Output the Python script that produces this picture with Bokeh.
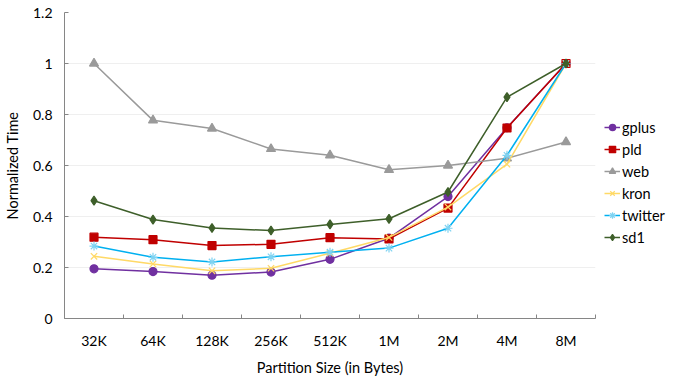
from bokeh.plotting import figure
from bokeh.models import (ColumnDataSource, Range1d, FixedTicker, CustomJSTickFormatter,
                          Legend, LegendItem)
from bokeh.embed import file_html
from bokeh.resources import INLINE

categories = ["32K", "64K", "128K", "256K", "512K", "1M", "2M", "4M", "8M"]
gplus = [0.195, 0.184, 0.170, 0.182, 0.232, 0.315, 0.478, 0.748, 1.0]
pld = [0.319, 0.309, 0.286, 0.291, 0.317, 0.312, 0.433, 0.747, 1.0]
web = [1.0, 0.777, 0.745, 0.665, 0.640, 0.583, 0.600, 0.628, 0.692]
kron = [0.244, 0.214, 0.187, 0.197, 0.256, 0.318, 0.437, 0.605, 1.0]
twitter = [0.284, 0.240, 0.222, 0.242, 0.260, 0.276, 0.354, 0.640, 1.0]
sd1 = [0.462, 0.388, 0.355, 0.345, 0.369, 0.391, 0.496, 0.868, 1.0]
y_ticks = [0, 0.2, 0.4, 0.6, 0.8, 1.0, 1.2]

FONT = "Lato"
xs = list(range(len(categories)))

p = figure(frame_width=531, frame_height=306, output_backend="svg", toolbar_location=None,
           x_range=Range1d(-0.5, len(categories) - 0.5), y_range=Range1d(0, 1.2),
           min_border_left=62, min_border_right=0, min_border_top=12, min_border_bottom=4)
p.outline_line_color = None
p.background_fill_color = "white"
p.border_fill_color = "white"

# axes
p.xaxis.ticker = FixedTicker(ticks=xs, minor_ticks=[i - 0.5 for i in range(len(categories) + 1)])
p.xaxis.major_label_overrides = {i: c for i, c in enumerate(categories)}
p.xaxis.major_tick_in = 0
p.xaxis.major_tick_out = 0
p.xaxis.minor_tick_in = 4
p.xaxis.minor_tick_out = 0
p.xaxis.minor_tick_line_color = "#868686"
p.xaxis.axis_line_color = "#868686"
p.xaxis.major_label_standoff = 13
p.xaxis.axis_label = "Partition Size (in Bytes)"
p.xaxis.axis_label_standoff = 7

p.yaxis.ticker = FixedTicker(ticks=y_ticks, minor_ticks=[])
p.yaxis.formatter = CustomJSTickFormatter(code="return tick.toFixed(1).replace(/\\.0$/, '');")
p.yaxis.major_tick_in = 4
p.yaxis.major_tick_out = 0
p.yaxis.major_tick_line_color = "#868686"
p.yaxis.axis_line_color = "#868686"
p.yaxis.major_label_standoff = 12
p.yaxis.axis_label = "Normalized Time"
p.yaxis.axis_label_standoff = 9

for ax in (p.xaxis, p.yaxis):
    ax.major_label_text_font = FONT
    ax.major_label_text_font_size = "14px"
    ax.major_label_text_color = "#000000"
    ax.axis_label_text_font = FONT
    ax.axis_label_text_font_size = "14.5px"
    ax.axis_label_text_font_style = "normal"
    ax.axis_label_text_color = "#000000"

p.xgrid.grid_line_color = None
p.ygrid.grid_line_color = "#EFEFEF"
p.ygrid.grid_line_width = 1

src = ColumnDataSource(dict(x=xs, gplus=gplus, pld=pld, web=web, kron=kron,
                            twitter=twitter, sd1=sd1))

series = [
    ("gplus", "gplus", "#7030A0", "circle", 8, "#7030A0"),
    ("pld", "pld", "#C00000", "square", 8, "#C00000"),
    ("web", "web", "#9A9A9A", "triangle", 9, "#9A9A9A"),
    ("kron", "kron", "#FFD966", "x", 9, "#FFD966"),
    ("twitter", "twitter", "#00B0F0", "asterisk", 9, "#7FD3F2"),
    ("sd1", "sd1", "#3E5F2A", "diamond", 9, "#3E5F2A"),
]

items = []
for name, col, color, marker, size, mcolor in series:
    r1 = p.line("x", col, source=src, line_color=color, line_width=1.5)
    r2 = p.scatter("x", col, source=src, marker=marker, size=size,
                   fill_color=mcolor, line_color=mcolor, line_width=1.2)
    items.append(LegendItem(label=name, renderers=[r1, r2]))

legend = Legend(items=items, location=(9, 71), orientation="vertical",
                label_text_font=FONT, label_text_font_size="14.5px",
                label_text_color="#000000", glyph_width=16, glyph_height=16,
                label_height=20, spacing=2, label_standoff=2, padding=0,
                margin=0, border_line_color=None, background_fill_alpha=0)
p.add_layout(legend, "right")

open("out.html", "w").write(file_html(p, INLINE))
